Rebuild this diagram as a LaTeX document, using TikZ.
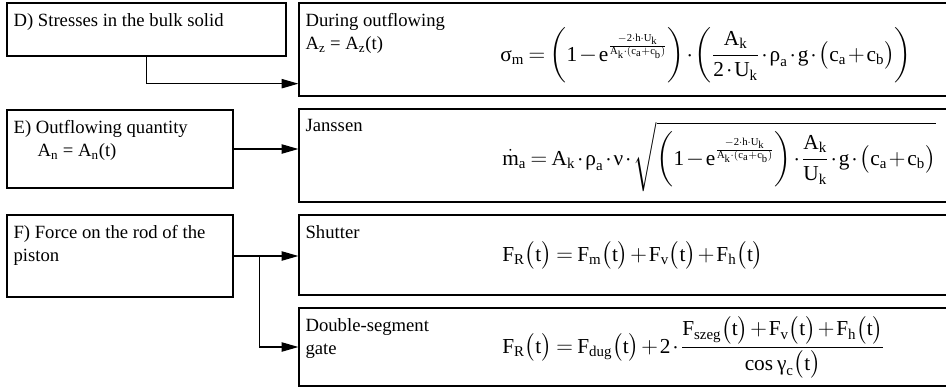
\documentclass[tikz,border=0pt]{standalone}
\usepackage{amsmath}
\usepackage{fontspec}
\setmainfont{Liberation Serif}
\usetikzlibrary{positioning,arrows.meta,fit,calc}
\newcommand{\gk}[1]{\text{#1}}
\newcommand{\tall}[1]{\vcenter{\hbox{\rule{0pt}{#1}}}}
\newcommand{\eqsp}{\medmuskip=1.5mu\relax\thickmuskip=3.5mu\relax}

\begin{document}
\begin{tikzpicture}[
  x=0.75pt, y=-0.75pt,
  box/.style = {draw, line width=1pt, inner sep=0pt},
  lbl/.style = {anchor=north west, inner sep=0pt, align=left,
                font=\fontsize{14}{17}\selectfont},
  eqn/.style = {anchor=base west, inner sep=0pt,
                font=\fontsize{16}{19}\selectfont\eqsp},
  arr/.style = {-{Triangle[length=12.5pt,width=7pt]}, line width=0.8pt},
]
\clip (0,0) rectangle (946,387);

% ---- left column: topics ----
\node[box, fit={(7,3) (286,56)}]    (stress)  {};
\node[box, fit={(7,110) (233,188)}] (outflow) {};
\node[box, fit={(7,215) (233,297)}] (force)   {};

% ---- right column: models ----
\node[box, fit={(299,3) (952,96)}]    (during)  {};
\node[box, fit={(299,109) (952,202)}] (janssen) {};
\node[box, fit={(299,215) (952,295)}] (shutter) {};
\node[box, fit={(299,308) (952,386)}] (gate)    {};

% ---- box texts ----
\node[lbl] at ($(stress.north west)+(7,11)$)  {D) Stresses in the bulk solid};
\node[lbl] at ($(outflow.north west)+(7,11)$) {E) Outflowing quantity\\\hspace*{18pt}A$_{\mathrm{n}}$ = A$_{\mathrm{n}}$(t)};
\node[lbl] at ($(force.north west)+(7,11)$)   {F) Force on the rod of the\\piston};
\node[lbl] at ($(during.north west)+(7,11)$)  {During outflowing\\A$_{\mathrm{z}}$ = A$_{\mathrm{z}}$(t)};
\node[lbl] at ($(janssen.north west)+(7,11)$) {Janssen};
\node[lbl] at ($(shutter.north west)+(7,11)$) {Shutter};
\node[lbl] at ($(gate.north west)+(7,11)$)    {Double-segment\\gate};

% ---- formulas ----
\node[eqn] (sigm) at (500,61) {$\displaystyle\mathrm{\gk{σ}_m = \left(\tall{45pt}1-e^{\frac{-2\cdot h\cdot U_k}{A_k\cdot(c_a+c_b)}}\right)\cdot\left(\tall{45pt}\frac{A_k}{2\cdot U_k}\cdot\gk{ρ}_a\cdot g\cdot\bigl(c_a+c_b\bigr)\right)}$};
\node[eqn] (mdot) at (502,165) {$\displaystyle\dot{\mathrm{m}}_{\mathrm{a}}\mathrm{{}= A_k\cdot\gk{ρ}_a\cdot\gk{ν}\cdot\sqrt{\left(\tall{44pt}1-e^{\frac{-2\cdot h\cdot U_k}{A_k\cdot(c_a+c_b)}}\right)\cdot\frac{A_k}{U_k}\cdot g\cdot\bigl(c_a+c_b\bigr)}}$};
\node[eqn] (frs) at (502,261) {$\displaystyle\mathrm{F_R\bigl(t\bigr) = F_m\bigl(t\bigr)+F_v\bigl(t\bigr)+F_h\bigl(t\bigr)}$};
\node[eqn] (frg) at (502,353) {$\displaystyle\mathrm{F_R\bigl(t\bigr) = F_{dug}\bigl(t\bigr)+2\cdot\frac{F_{szeg}\bigl(t\bigr)+F_v\bigl(t\bigr)+F_h\bigl(t\bigr)}{\cos\gk{γ}_c\bigl(t\bigr)}}$};

% ---- connectors ----
\coordinate (fork) at ($(force.east)!0.4!(force.east -| shutter.west)$);
\draw[arr] (stress.south) |- ($(during.south west)+(0,-13)$);
\draw[arr] (outflow.east) -- (outflow.east -| janssen.west);
\draw[arr] (force.east) -- (force.east -| shutter.west);
\draw[arr] (fork) |- (gate.west);

\end{tikzpicture}
\end{document}
